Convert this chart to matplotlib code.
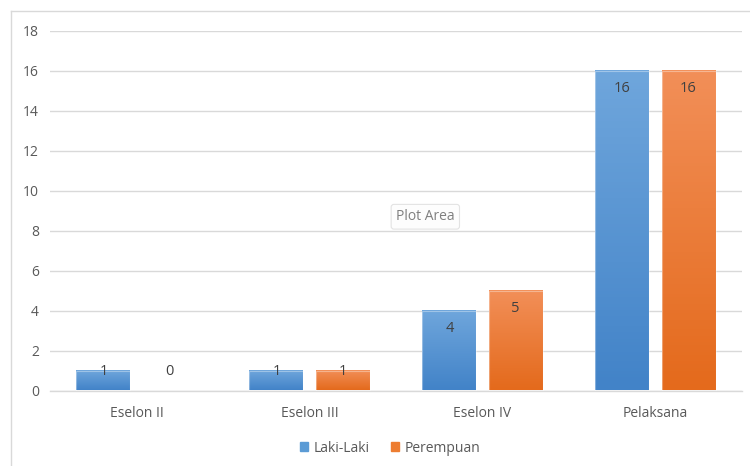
import numpy as np
import matplotlib
matplotlib.use('Agg')
import matplotlib.pyplot as plt
from matplotlib.colors import LinearSegmentedColormap
from matplotlib.lines import Line2D
from matplotlib.patches import Patch

categories = ['Eselon II', 'Eselon III', 'Eselon IV', 'Pelaksana']
laki = [1, 1, 4, 16]
perempuan = [0, 1, 5, 16]
series_names = ['Laki-Laki', 'Perempuan']
yticks = list(range(0, 19, 2))

plt.rcParams['font.family'] = ['Open Sans', 'DejaVu Sans']

fig = plt.figure(figsize=[7.5, 4.66], dpi=100)
ax = fig.add_axes([50/750, 1 - 390.5/466, 692/750, 359.5/466])

grid_col = '#d9d9d9'
text_col = '#595959'
label_col = '#404040'

blue_cm = LinearSegmentedColormap.from_list('b', ['#4283c8', '#6fa6dc'])
orange_cm = LinearSegmentedColormap.from_list('o', ['#e46a1c', '#f28f58'])

width = 0.312
offset = 0.191
x = np.arange(len(categories))
grad = np.linspace(0, 1, 100).reshape(-1, 1)

for vals, off, cm in [(laki, -offset, blue_cm), (perempuan, offset, orange_cm)]:
    # invisible bars give the geometry, the gradient is painted into each one
    bars = ax.bar(x + off, vals, width, color='none', edgecolor='none', zorder=2)
    for b, v in zip(bars, vals):
        if v <= 0:
            continue
        x0 = b.get_x()
        ax.imshow(grad, cmap=cm, origin='lower', aspect='auto',
                  extent=[x0, x0 + width, 0, v], zorder=2.5)
        ax.add_patch(plt.Rectangle((x0, 0), width, v, fill=False,
                                   edgecolor=(1, 1, 1, 0.35), lw=0.8, zorder=3))
    for xi, v in zip(x + off, vals):
        ypos = max(v - 0.9, 0.93)
        ax.text(xi, ypos, str(v), ha='center', va='center', fontsize=10.5,
                color=label_col, zorder=4)

ax.set_xlim(-0.5, 3.5)
ax.set_ylim(0, 18)
ax.set_yticks(yticks)
ax.set_xticks(x)
ax.set_xticklabels(categories)
ax.tick_params(axis='both', length=0, labelsize=10, labelcolor=text_col)
ax.tick_params(axis='x', pad=11)
ax.tick_params(axis='y', pad=8)
ax.yaxis.grid(True, color=grid_col, lw=1)
ax.set_axisbelow(True)
for s in ['top', 'right', 'left']:
    ax.spines[s].set_visible(False)
ax.spines['bottom'].set_color(grid_col)
ax.spines['bottom'].set_linewidth(1)

# hover tooltip box
ax.text(1.5, 8.7, 'Plot Area', ha='left', va='center', fontsize=10,
        color='#7f7f7f', zorder=6,
        bbox=dict(boxstyle='round,pad=0.35,rounding_size=0.2', fc='#fdfdfd',
                  ec='#e3e3e3', lw=0.8))

handles = [Patch(color='#5b9bd5'), Patch(color='#ed7d31')]
fig.legend(handles, series_names, loc='center', bbox_to_anchor=(390/750, 1 - 448/466),
           ncol=2, frameon=False, fontsize=10, handlelength=0.6, handleheight=0.6,
           handletextpad=0.4, columnspacing=1.5, labelcolor=text_col)

# outer chart border
fig.add_artist(Line2D([10.5/750, 10.5/750], [0, 1 - 11/466], color=grid_col,
                      lw=1, transform=fig.transFigure))
fig.add_artist(Line2D([10.5/750, 1], [1 - 11/466, 1 - 11/466], color=grid_col,
                      lw=1, transform=fig.transFigure))

plt.savefig('out.png', dpi=100)
